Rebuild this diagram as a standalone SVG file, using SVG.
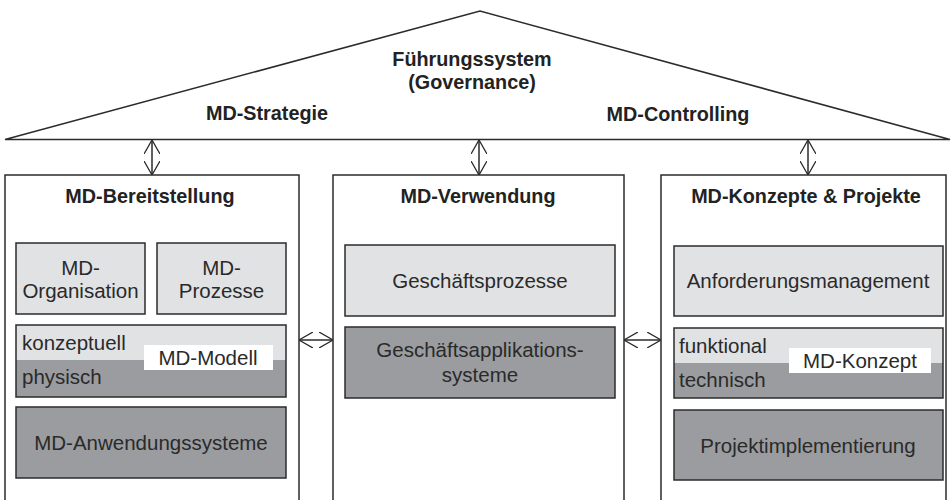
<svg xmlns="http://www.w3.org/2000/svg" width="951" height="500" viewBox="0 0 951 500">
<defs>
<style>
.ln{fill:none;stroke:#2b2b2b;stroke-width:1.5}
.box{fill:#fff;stroke:#2b2b2b;stroke-width:1.5}
.lt{fill:#e1e2e4;stroke:#2b2b2b;stroke-width:1.5}
.dk{fill:#9b9c9f;stroke:#2b2b2b;stroke-width:1.5}
.b{font-family:"Liberation Sans",Arial,sans-serif;font-weight:bold;font-size:19.8px;fill:#222;text-anchor:middle}
.r{font-family:"Liberation Sans",Arial,sans-serif;font-size:20.5px;fill:#2a2a2a;text-anchor:middle}
.rl{font-family:"Liberation Sans",Arial,sans-serif;font-size:20.5px;fill:#2a2a2a}
</style>
<marker id="ah" viewBox="0 0 14 16" refX="14" refY="8" markerWidth="14" markerHeight="16" markerUnits="userSpaceOnUse" orient="auto-start-reverse">
<path d="M0,0 L14,8 L0,16" fill="none" stroke="#2b2b2b" stroke-width="1.3"/>
</marker>
</defs>

<g id="roof">
<polygon class="ln" points="5,139.5 480,11 950,139.5"/>
<text class="b" x="472" y="66">Führungssystem</text>
<text class="b" x="472" y="89">(Governance)</text>
<text class="b" x="267" y="120">MD-Strategie</text>
<text class="b" x="678" y="121">MD-Controlling</text>
</g>

<g id="bereitstellung">
<rect class="box" x="5" y="175" width="294" height="340"/>
<text class="b" x="150" y="203">MD-Bereitstellung</text>
<g id="md-organisation">
<rect class="lt" x="16" y="243" width="129" height="71"/>
<text class="r" x="80.5" y="275">MD-</text>
<text class="r" x="80.5" y="298">Organisation</text>
</g>
<g id="md-prozesse">
<rect class="lt" x="157" y="243" width="129" height="71"/>
<text class="r" x="221.5" y="275">MD-</text>
<text class="r" x="221.5" y="298">Prozesse</text>
</g>
<g id="md-modell">
<rect x="16" y="325" width="270" height="35" fill="#e1e2e4"/>
<rect x="16" y="360" width="270" height="37" fill="#9b9c9f"/>
<rect class="ln" x="16" y="325" width="270" height="72"/>
<text class="rl" x="22" y="350">konzeptuell</text>
<text class="rl" x="22" y="384">physisch</text>
<rect x="144" y="345" width="129" height="25" fill="#fff"/>
<text class="r" x="208" y="365">MD-Modell</text>
</g>
<g id="md-anwendungssysteme">
<rect class="dk" x="16" y="407" width="270" height="71"/>
<text class="r" x="151" y="450">MD-Anwendungssysteme</text>
</g>
</g>

<g id="verwendung">
<rect class="box" x="333" y="175" width="291" height="340"/>
<text class="b" x="478" y="203">MD-Verwendung</text>
<g id="geschaeftsprozesse">
<rect class="lt" x="345" y="245" width="270" height="71"/>
<text class="r" x="480" y="288">Geschäftsprozesse</text>
</g>
<g id="geschaeftsapplikationssysteme">
<rect class="dk" x="345" y="327" width="270" height="71"/>
<text class="r" x="480" y="357">Geschäftsapplikations-</text>
<text class="r" x="480" y="382">systeme</text>
</g>
</g>

<g id="konzepte">
<rect class="box" x="661" y="175" width="285" height="340"/>
<text class="b" x="806" y="203">MD-Konzepte &amp; Projekte</text>
<g id="anforderungsmanagement">
<rect class="lt" x="674" y="246" width="269" height="70"/>
<text class="r" x="808" y="288">Anforderungsmanagement</text>
</g>
<g id="md-konzept">
<rect x="674" y="328" width="269" height="35" fill="#e1e2e4"/>
<rect x="674" y="363" width="269" height="35" fill="#9b9c9f"/>
<rect class="ln" x="674" y="328" width="269" height="70"/>
<text class="rl" x="679" y="353">funktional</text>
<text class="rl" x="679" y="387">technisch</text>
<rect x="789" y="348" width="142" height="25" fill="#fff"/>
<text class="r" x="860" y="368">MD-Konzept</text>
</g>
<g id="projektimplementierung">
<rect class="dk" x="674" y="410" width="269" height="70"/>
<text class="r" x="808" y="453">Projektimplementierung</text>
</g>
</g>

<g id="connectors">
<line class="ln" x1="152" y1="140" x2="152" y2="175" marker-start="url(#ah)" marker-end="url(#ah)"/>
<line class="ln" x1="479" y1="140" x2="479" y2="175" marker-start="url(#ah)" marker-end="url(#ah)"/>
<line class="ln" x1="808" y1="140" x2="808" y2="175" marker-start="url(#ah)" marker-end="url(#ah)"/>
<line class="ln" x1="299" y1="340" x2="333" y2="340" marker-start="url(#ah)" marker-end="url(#ah)"/>
<line class="ln" x1="624" y1="340" x2="661" y2="340" marker-start="url(#ah)" marker-end="url(#ah)"/>
</g>
</svg>
